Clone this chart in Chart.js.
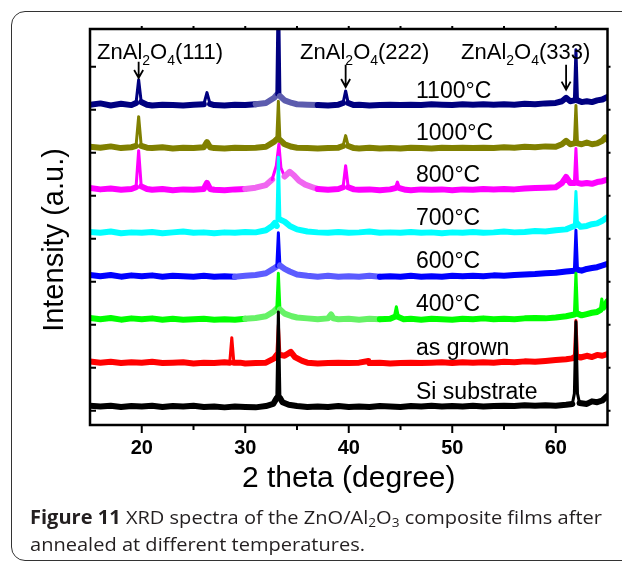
<!DOCTYPE html>
<html>
<head>
<meta charset="utf-8">
<script src="https://cdn.jsdelivr.net/npm/chart.js@4.4.1/dist/chart.umd.min.js"></script>
<style>
  html, body { margin: 0; padding: 0; background: #fff; overflow: hidden; }
  #wrap { position: relative; width: 622px; height: 564px; }
  #frame { position: absolute; left: 11px; top: 11px; width: 700px; height: 550px;
           border: 1.5px solid #333; border-radius: 14px; box-sizing: border-box; }
  #chartBox { position: absolute; left: 0; top: 0; width: 622px; height: 564px; }
  #caption { position: absolute; left: 30px; top: 504px; font-family: "Open Sans", sans-serif;
             font-size: 19px; line-height: 27px; color: #231f20; white-space: nowrap;
             transform-origin: 0 0; }
  #caption sub { font-size: 0.68em; vertical-align: -0.25em; line-height: 0; }
</style>
</head>
<body>
<div id="wrap">
  <div id="frame"></div>
  <div id="chartBox"><canvas id="xrdChart"></canvas></div>
  <div id="caption"><span id="capLine1"><b>Figure 11</b> XRD spectra of the ZnO/Al<sub>2</sub>O<sub>3</sub> composite films after</span><br>annealed at different temperatures.</div>
</div>
<script>
// 2 theta (degree) vs intensity (a.u., curves offset by one unit each)
const seriesNames = ['Si substrate', 'as grown', '400°C', '600°C', '700°C', '800°C', '1000°C', '1100°C'];
const xTicks = [20, 30, 40, 50, 60];
const yTicks = [0, 1, 2, 3, 4, 5, 6, 7, 8];
const peakNames = ['(111)', '(222)', '(333)'];
const peakTheta = [19.7, 39.7, 61.0];

const siSubstrate = [[15,0.12],[16,0.10],[17,0.12],[18,0.09],[19,0.11],[20,0.10],[21,0.12],[22,0.09],[23,0.11],[24,0.10],[25,0.12],[26,0.09],[27,0.10],[28,0.08],[29,0.10],[30,0.09],[31,0.08],[32,0.11],[32.7,0.16],[33.05,0.30],[33.2,2.3],[33.35,0.30],[33.6,0.20],[34.2,0.14],[35,0.11],[36,0.09],[37,0.10],[38,0.09],[39,0.11],[40,0.09],[41,0.10],[42,0.09],[43,0.11],[44,0.10],[45,0.09],[46,0.11],[47,0.10],[48,0.12],[49,0.10],[50,0.11],[51,0.10],[52,0.12],[53,0.10],[54,0.11],[55,0.12],[56,0.11],[57,0.13],[58,0.12],[59,0.13],[60,0.12],[61,0.14],[61.6,0.16],[61.8,0.40],[61.95,2.07],[62.1,0.40],[62.3,0.18],[63,0.16],[63.5,0.22],[64,0.20],[64.5,0.24],[65,0.35]];
const asGrown = [[15,1.15],[16,1.12],[17,1.14],[18,1.11],[19,1.13],[20,1.12],[21,1.14],[22,1.11],[23,1.12],[24,1.13],[25,1.10],[26,1.12],[27,1.11],[28,1.13],[28.5,1.12],[28.7,1.70],[28.9,1.12],[29.5,1.12],[30,1.10],[31,1.11],[32,1.12],[32.8,1.22],[33.05,1.30],[33.2,2.0],[33.35,1.30],[33.8,1.28],[34.4,1.37],[34.8,1.25],[35.5,1.16],[36,1.12],[37,1.10],[38,1.11],[39,1.12],[40,1.11],[41,1.12],[41.9,1.16],[42,1.11],[43,1.12],[44,1.10],[45,1.11],[46,1.12],[47,1.11],[48,1.12],[49,1.13],[50,1.11],[51,1.13],[52,1.12],[53,1.13],[54,1.12],[55,1.14],[56,1.13],[57,1.15],[58,1.14],[59,1.16],[60,1.18],[61,1.20],[61.6,1.22],[61.8,1.25],[61.95,2.1],[62.1,1.26],[62.4,1.24],[63,1.28],[63.5,1.25],[64,1.30],[64.5,1.28],[65,1.32]];
const t400 = [[15,2.16],[16,2.13],[17,2.16],[18,2.12],[19,2.15],[20,2.13],[21,2.15],[22,2.12],[23,2.14],[24,2.12],[25,2.13],[26,2.14],[27,2.12],[28,2.13],[29,2.12],[30,2.14],[31,2.16],[32,2.2],[32.7,2.3],[33.05,2.38],[33.2,3.2],[33.35,2.36],[33.8,2.26],[34.5,2.2],[35,2.17],[36,2.15],[37,2.13],[38,2.15],[38.3,2.24],[38.5,2.15],[39,2.13],[40,2.14],[41,2.12],[42,2.14],[43,2.13],[44,2.14],[44.4,2.18],[44.6,2.42],[44.8,2.18],[45.3,2.13],[46,2.14],[47,2.12],[48,2.14],[49,2.13],[50,2.12],[51,2.14],[52,2.13],[53,2.15],[54,2.13],[55,2.14],[56,2.13],[57,2.15],[58,2.16],[59,2.15],[60,2.17],[61,2.2],[61.8,2.24],[61.95,3.2],[62.1,2.26],[62.5,2.22],[63,2.25],[63.5,2.28],[64,2.3],[64.3,2.34],[64.45,2.6],[64.6,2.4],[65,2.55]];
const t600 = [[15,3.16],[16,3.13],[17,3.16],[18,3.12],[19,3.15],[20,3.13],[21,3.15],[22,3.12],[23,3.14],[24,3.13],[25,3.12],[26,3.14],[27,3.12],[28,3.13],[29,3.12],[30,3.14],[31,3.16],[32,3.2],[32.7,3.3],[33.05,3.36],[33.2,4.14],[33.35,3.38],[33.8,3.3],[34.3,3.24],[35,3.17],[36,3.14],[37,3.12],[38,3.14],[39,3.12],[40,3.13],[41,3.12],[42,3.14],[43,3.12],[44,3.13],[45,3.12],[46,3.14],[47,3.12],[48,3.13],[49,3.12],[50,3.14],[51,3.13],[52,3.14],[53,3.13],[54,3.15],[55,3.14],[56,3.16],[57,3.17],[58,3.18],[59,3.2],[60,3.21],[61,3.24],[61.8,3.26],[61.95,4.2],[62.1,3.28],[62.5,3.26],[63,3.3],[63.5,3.32],[64,3.34],[64.5,3.38],[65,3.42]];
const t700 = [[15,4.16],[16,4.14],[17,4.17],[18,4.13],[19,4.15],[20,4.14],[21,4.16],[22,4.13],[23,4.15],[24,4.17],[25,4.14],[26,4.15],[27,4.13],[28,4.15],[29,4.14],[30,4.16],[31,4.15],[32,4.2],[32.6,4.3],[32.85,4.37],[33.05,4.3],[33.2,5.9],[33.35,4.45],[33.8,4.4],[34.3,4.3],[35,4.22],[36,4.17],[37,4.15],[38,4.14],[39,4.16],[40,4.14],[41,4.15],[42,4.17],[43,4.14],[44,4.15],[45,4.14],[46,4.16],[47,4.14],[48,4.15],[49,4.13],[50,4.15],[51,4.14],[52,4.16],[53,4.14],[54,4.15],[55,4.17],[56,4.15],[57,4.16],[58,4.18],[59,4.17],[60,4.2],[61,4.22],[61.6,4.28],[61.8,4.3],[61.95,5.1],[62.1,4.35],[62.4,4.28],[63,4.3],[63.5,4.34],[64,4.36],[64.5,4.42],[65,4.5]];
const t800 = [[15,5.18],[16,5.15],[17,5.17],[18,5.14],[19,5.16],[19.45,5.2],[19.7,6.05],[19.95,5.22],[20.5,5.16],[21,5.14],[22,5.16],[23,5.13],[24,5.15],[25,5.14],[26,5.16],[26.3,5.3],[26.6,5.16],[27,5.14],[28,5.13],[29,5.15],[30,5.16],[31,5.19],[32,5.25],[32.6,5.38],[33.0,5.7],[33.25,6.2],[33.45,5.65],[33.8,5.45],[34.3,5.56],[34.7,5.48],[35.2,5.35],[35.8,5.26],[36.5,5.2],[37,5.16],[38,5.14],[39,5.16],[39.45,5.2],[39.7,5.7],[39.95,5.2],[40.5,5.15],[41,5.14],[42,5.15],[43,5.13],[44,5.15],[44.5,5.18],[44.7,5.32],[44.9,5.18],[45.5,5.14],[46,5.13],[47,5.15],[48,5.14],[49,5.15],[50,5.13],[51,5.15],[52,5.14],[53,5.16],[54,5.15],[55,5.16],[56,5.15],[57,5.17],[58,5.18],[59,5.19],[60,5.2],[60.6,5.3],[61.0,5.44],[61.4,5.3],[61.8,5.3],[61.95,6.1],[62.1,5.3],[62.5,5.28],[63,5.3],[63.5,5.28],[64,5.32],[64.5,5.34],[65,5.38]];
const t1000 = [[15,6.14],[16,6.12],[17,6.15],[18,6.11],[19,6.13],[19.45,6.16],[19.7,6.84],[19.95,6.16],[20.5,6.12],[21,6.11],[22,6.13],[23,6.1],[24,6.12],[25,6.11],[26,6.13],[26.3,6.25],[26.6,6.13],[27,6.11],[28,6.1],[29,6.12],[30,6.11],[31,6.12],[32,6.14],[32.8,6.26],[33.05,6.32],[33.2,7.2],[33.35,6.3],[33.8,6.2],[34.5,6.14],[35,6.12],[36,6.11],[37,6.1],[38,6.11],[39,6.12],[39.45,6.16],[39.7,6.4],[39.95,6.16],[40.5,6.11],[41,6.1],[42,6.12],[43,6.1],[44,6.11],[45,6.1],[46,6.12],[47,6.11],[48,6.1],[49,6.12],[50,6.11],[51,6.12],[52,6.11],[53,6.12],[54,6.11],[55,6.13],[56,6.12],[57,6.14],[58,6.13],[59,6.15],[60,6.14],[60.6,6.2],[61.0,6.28],[61.4,6.2],[61.8,6.22],[61.95,7.1],[62.1,6.22],[62.5,6.2],[63,6.24],[63.5,6.2],[64,6.22],[64.5,6.28],[64.8,6.36],[65,6.3]];
const t1100 = [[15,7.12],[16,7.15],[17,7.10],[18,7.14],[19,7.11],[19.45,7.16],[19.7,7.70],[19.95,7.18],[20.5,7.12],[21,7.10],[22,7.12],[23,7.11],[24,7.10],[25,7.12],[26,7.13],[26.3,7.40],[26.6,7.14],[27,7.11],[28,7.10],[29,7.12],[30,7.11],[31,7.13],[32,7.16],[32.8,7.28],[33.05,7.35],[33.2,10],[33.35,7.32],[33.8,7.22],[34.5,7.16],[35,7.13],[36,7.12],[37,7.11],[38,7.10],[39,7.12],[39.45,7.16],[39.7,7.44],[39.95,7.16],[40.5,7.11],[41,7.12],[42,7.10],[43,7.11],[44,7.12],[45,7.11],[46,7.12],[47,7.11],[48,7.13],[49,7.12],[50,7.11],[51,7.13],[52,7.12],[53,7.13],[54,7.12],[55,7.13],[56,7.12],[57,7.14],[58,7.13],[59,7.15],[60,7.16],[60.6,7.20],[61.0,7.28],[61.4,7.20],[61.8,7.22],[61.95,8.4],[62.1,7.22],[62.5,7.18],[63,7.20],[63.5,7.18],[64,7.22],[64.5,7.24],[65,7.30]];

const seriesData = [siSubstrate, asGrown, t400, t600, t700, t800, t1000, t1100];
const seriesColors = ['#000000', '#ff0000', '#00ff00', '#0000ff', '#00ffff', '#ff00ff', '#808000', '#000080'];
// lighter stretches of some scans: [from, to, colour]
const paleParts = [null, null, [29.3, 43.2, '#66f266'], [29, 43, '#5c5cff'], null, [30, 37.2, '#f066f0'], null, [30.3, 37.4, '#5c5cae']];

const FONT = '"Liberation Sans", Arial, Helvetica, sans-serif';

function isSteep(c) {
  const dx = Math.abs(c.p1.x - c.p0.x), dy = Math.abs(c.p1.y - c.p0.y);
  return dy > 2 * dx;
}

function segStyle(pale, color) {
  return {
    borderColor: c => (pale && !isSteep(c) && c.p0.parsed.x >= pale[0] && c.p1.parsed.x <= pale[1]) ? pale[2] : color,
    borderWidth: c => isSteep(c) ? 3 : 6
  };
}

const decor = {
  id: 'decor',
  afterDraw(chart) {
    const {ctx, chartArea: a, scales: {x, y}} = chart;
    ctx.save();
    ctx.strokeStyle = '#000';
    ctx.fillStyle = '#000';
    // frame
    ctx.lineWidth = 2.5;
    ctx.strokeRect(a.left, a.top, a.right - a.left, a.bottom - a.top);
    // x ticks (outward, bottom and top)
    ctx.lineWidth = 2;
    for (let v = 20; v <= 60; v += 5) {
      const px = x.getPixelForValue(v);
      const len = xTicks.includes(v) ? 8 : 5;
      ctx.beginPath();
      ctx.moveTo(px, a.bottom); ctx.lineTo(px, a.bottom + len);
      ctx.moveTo(px, a.top); ctx.lineTo(px, a.top - 3);
      ctx.stroke();
    }
    // y ticks (inward left, outward right)
    yTicks.forEach(v => {
      const py = y.getPixelForValue(v);
      ctx.beginPath();
      ctx.moveTo(a.left, py); ctx.lineTo(a.left + 6, py);
      ctx.moveTo(a.right, py); ctx.lineTo(a.right + 3, py);
      ctx.stroke();
    });

    // curve labels
    ctx.font = '23px ' + FONT;
    ctx.textAlign = 'left';
    ctx.textBaseline = 'middle';
    seriesNames.forEach((name, i) => {
      ctx.fillText(name, x.getPixelForValue(46.5), y.getPixelForValue(seriesData[i][0][1] + 0.3));
    });

    // ZnAl2O4 peak labels and arrows
    const labelLeft = [15.68, 35.3, 50.85];
    const arrowTop = [8.12, 8.05, 8.05];
    const arrowTip = [7.74, 7.53, 7.47];
    ctx.textBaseline = 'alphabetic';
    peakNames.forEach((hkl, i) => {
      let px = x.getPixelForValue(labelLeft[i]);
      const base = y.getPixelForValue(8.19);
      const parts = [['ZnAl', 0], ['2', 1], ['O', 0], ['4', 1], [hkl, 0]];
      parts.forEach(([t, sub]) => {
        ctx.font = (sub ? '14px ' : '22px ') + FONT;
        ctx.fillText(t, px, base + (sub ? 6 : 0));
        px += ctx.measureText(t).width;
      });
      const ax = x.getPixelForValue(peakTheta[i]);
      const y0 = y.getPixelForValue(arrowTop[i]);
      const y1 = y.getPixelForValue(arrowTip[i]);
      ctx.lineWidth = 1.8;
      ctx.beginPath();
      ctx.moveTo(ax, y0); ctx.lineTo(ax, y1);
      ctx.moveTo(ax - 4.5, y1 - 8); ctx.lineTo(ax, y1); ctx.lineTo(ax + 4.5, y1 - 8);
      ctx.stroke();
    });

    // axis titles
    ctx.font = '30px ' + FONT;
    ctx.textAlign = 'center';
    ctx.textBaseline = 'middle';
    ctx.fillText('2 theta (degree)', (a.left + a.right) / 2, a.bottom + 54);
    ctx.translate(a.left - 35, a.top + 211);
    ctx.rotate(-Math.PI / 2);
    ctx.font = '29px ' + FONT;
    ctx.fillText('Intensity (a.u.)', 0, 0);
    ctx.restore();
  }
};

new Chart(document.getElementById('xrdChart'), {
  type: 'line',
  data: {
    datasets: seriesData.map((d, i) => ({
      label: seriesNames[i],
      data: d,
      borderColor: seriesColors[i],
      borderWidth: 6,
      borderCapStyle: 'round',
      borderJoinStyle: 'round',
      pointRadius: 0,
      tension: 0,
      segment: segStyle(paleParts[i], seriesColors[i])
    }))
  },
  options: {
    responsive: true,
    maintainAspectRatio: false,
    animation: false,
    layout: { padding: { left: 90, top: 29, right: 14.5, bottom: 104 } },
    plugins: { legend: { display: false }, tooltip: { enabled: false } },
    scales: {
      x: {
        type: 'linear', min: 15, max: 65,
        afterBuildTicks: s => { s.ticks = xTicks.map(v => ({ value: v })); },
        afterFit: s => { s.height = 35; },
        ticks: { color: '#000', padding: 11, maxRotation: 0, font: { family: FONT, size: 20, weight: 'bold' } },
        grid: { display: false, drawTicks: false, tickLength: 0 },
        border: { display: false }
      },
      y: {
        min: -0.33, max: 8.88,
        ticks: { display: false },
        grid: { display: false, drawTicks: false, tickLength: 0 },
        border: { display: false }
      }
    }
  },
  plugins: [decor]
});

// fit the caption's first line to the figure width
const cap = document.getElementById('caption');
const w = document.getElementById('capLine1').getBoundingClientRect().width;
cap.style.transform = 'scaleX(' + (572 / w) + ')';
</script>
</body>
</html>
